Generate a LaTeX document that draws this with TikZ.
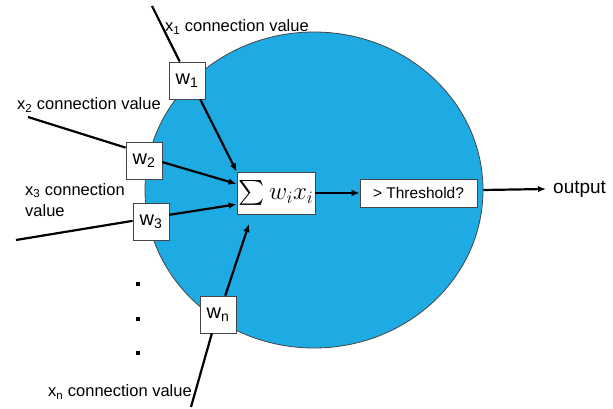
\documentclass[tikz,border=0pt]{standalone}
\usepackage{fix-cm}
\usepackage{amsmath}
\usepackage{fontspec}
\setmainfont{Liberation Sans}
\usepackage{xcolor}
\usetikzlibrary{arrows.meta, shapes.geometric, calc}

\definecolor{cellblue}{RGB}{30,170,226}
\definecolor{boxgray}{RGB}{70,70,70}

\tikzset{
    wbox/.style={draw=boxgray, line width=0.8pt, fill=white, inner sep=0pt,
        minimum width=36pt, minimum height=37pt, font=\fontsize{20}{22}\selectfont},
    inlabel/.style={anchor=west, inner sep=0pt, font=\fontsize{16.5}{20}\selectfont},
    link/.style={line width=2.2pt},
}

\begin{document}
\begin{tikzpicture}[x=1pt, y=-1pt, >={Latex[length=8pt,width=6.5pt]}]
    \useasboundingbox (0,0) rectangle (613,409);

    % Thân nơ-ron
    \node[ellipse, draw=boxgray, line width=0.8pt, fill=cellblue, inner sep=0pt,
        minimum width=338pt, minimum height=316pt] (neuron) at (314,190) {};

    % Các hộp trọng số
    \node[wbox] (w1) at (187,80.5) {w\textsubscript{1}};
    \node[wbox] (w2) at (144,160.5) {w\textsubscript{2}};
    \node[wbox] (w3) at (151,221.5) {w\textsubscript{3}};
    \node[wbox] (wn) at (218,314.5) {w\textsubscript{n}};

    % Tổng và ngưỡng
    \node[draw=boxgray, line width=0.8pt, fill=white, inner sep=0pt,
        minimum width=78pt, minimum height=42pt, font=\fontsize{25}{28}\selectfont]
        (sum) at (276,193) {$\sum w_i x_i$};
    \node[draw=boxgray, line width=0.8pt, fill=white, inner sep=0pt,
        minimum width=117pt, minimum height=28pt, font=\fontsize{15.5}{18}\selectfont]
        (thr) at (418.5,193) {> Threshold?};
    \node[anchor=west, inner sep=0pt, font=\fontsize{19}{22}\selectfont]
        (out) at (553,189) {output};

    % Nhãn đầu vào
    \node[inlabel] (l1) at (165,27) {x\textsubscript{1} connection value};
    \node[inlabel] (l2) at (17,105) {x\textsubscript{2} connection value};
    \node[inlabel, align=left, font=\fontsize{16.5}{21}\selectfont]
        (l3) at (25,200) {x\textsubscript{3} connection\\value};
    \node[inlabel] (ln) at (48,392) {x\textsubscript{n} connection value};

    % Điểm đầu các đường vào
    \coordinate (x1s) at (152,6);
    \coordinate (x2s) at (28,117);
    \coordinate (x3s) at (16,240);
    \coordinate (xns) at (191,407);
    \coordinate (xnin) at (249,224);

    % Đường vào
    \draw[link] (x1s) -- (w1.111);
    \draw[link] (x2s) -- (w2.145);
    \draw[link] (x3s) -- (w3.178);
    \draw[link] (xns) -- (wn.-108);

    \draw[link, ->] (w1.-55) -- (sum.north west);
    \draw[link, ->] (w2.-5) -- (sum.167);
    \draw[link, ->] (w3.20) -- (sum.196);
    \draw[link, ->] (wn.69) -- (xnin);

    % Đầu ra
    \draw[link, ->] (sum.east) -- (thr.west);
    \draw[link, ->] (neuron.east) -- ($(out.west)+(-7,0)$);

    % Dấu chấm
    \foreach \y in {284,319,353} {
        \fill (136,\y-2) rectangle (140,\y+2);
    }
\end{tikzpicture}
\end{document}
